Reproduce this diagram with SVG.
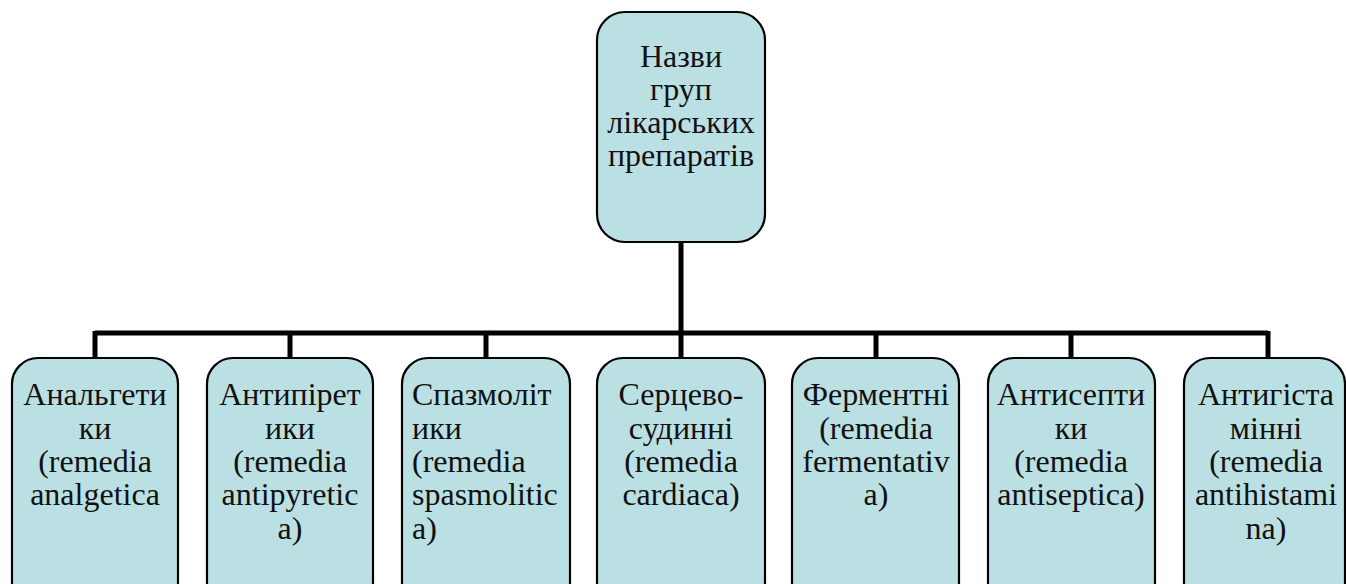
<svg xmlns="http://www.w3.org/2000/svg" width="1346" height="584" viewBox="0 0 1346 584">
<style>
.box{fill:#bbe0e3;stroke:#000;stroke-width:2.2}
.t{font-family:"Liberation Serif","Times New Roman","Noto Sans CJK SC",serif;font-size:32px;fill:#111}
.c{text-anchor:middle}
.conn{stroke:#000;stroke-width:5;fill:none}
</style>
<rect width="1346" height="584" fill="#fff"/>
<g id="connectors">
<path class="conn" d="M681 242V333M95 333H1268M95 331V359M290 331V359M486 331V359M681 331V359M876 331V359M1071 331V359M1268 331V359"/>
</g>
<g id="root">
<rect class="box" x="597" y="12" width="168" height="230" rx="28"/>
<text class="t c"><tspan x="681" y="67">Назви</tspan><tspan x="681" y="100">груп</tspan><tspan x="681" y="133">лікарських</tspan><tspan x="681" y="166">препаратів</tspan></text>
</g>
<g id="n1">
<rect class="box" x="12" y="358" width="166" height="250" rx="26"/>
<text class="t c"><tspan x="95" y="405">Анальгети</tspan><tspan x="95" y="439">ки</tspan><tspan x="95" y="472">(remedia</tspan><tspan x="95" y="505">analgetica</tspan></text>
</g>
<g id="n2">
<rect class="box" x="207" y="358" width="166" height="250" rx="26"/>
<text class="t c"><tspan x="290" y="405">Антипірет</tspan><tspan x="290" y="439">ики</tspan><tspan x="290" y="472">(remedia</tspan><tspan x="290" y="505">antipyretic</tspan><tspan x="290" y="539">a)</tspan></text>
</g>
<g id="n3">
<rect class="box" x="402" y="358" width="168" height="250" rx="26"/>
<text class="t"><tspan x="412" y="405">Спазмоліт</tspan><tspan x="412" y="439">ики</tspan><tspan x="412" y="472">(remedia</tspan><tspan x="412" y="505">spasmolitic</tspan><tspan x="412" y="539">a)</tspan></text>
</g>
<g id="n4">
<rect class="box" x="597" y="358" width="168" height="250" rx="26"/>
<text class="t c"><tspan x="681" y="405">Серцево-</tspan><tspan x="681" y="439">судинні</tspan><tspan x="681" y="472">(remedia</tspan><tspan x="681" y="505">cardiaca)</tspan></text>
</g>
<g id="n5">
<rect class="box" x="792" y="358" width="167" height="250" rx="26"/>
<text class="t c"><tspan x="876" y="405">Ферментні</tspan><tspan x="876" y="439">(remedia</tspan><tspan x="876" y="472">fermentativ</tspan><tspan x="876" y="505">a)</tspan></text>
</g>
<g id="n6">
<rect class="box" x="988" y="358" width="167" height="250" rx="26"/>
<text class="t c"><tspan x="1071" y="405">Антисепти</tspan><tspan x="1071" y="439">ки</tspan><tspan x="1071" y="472">(remedia</tspan><tspan x="1071" y="505">antiseptica)</tspan></text>
</g>
<g id="n7">
<rect class="box" x="1184" y="358" width="161" height="250" rx="26"/>
<text class="t c"><tspan x="1266" y="405">Антигіста</tspan><tspan x="1266" y="439">мінні</tspan><tspan x="1266" y="472">(remedia</tspan><tspan x="1266" y="505">antihistami</tspan><tspan x="1266" y="539">na)</tspan></text>
</g>
</svg>
